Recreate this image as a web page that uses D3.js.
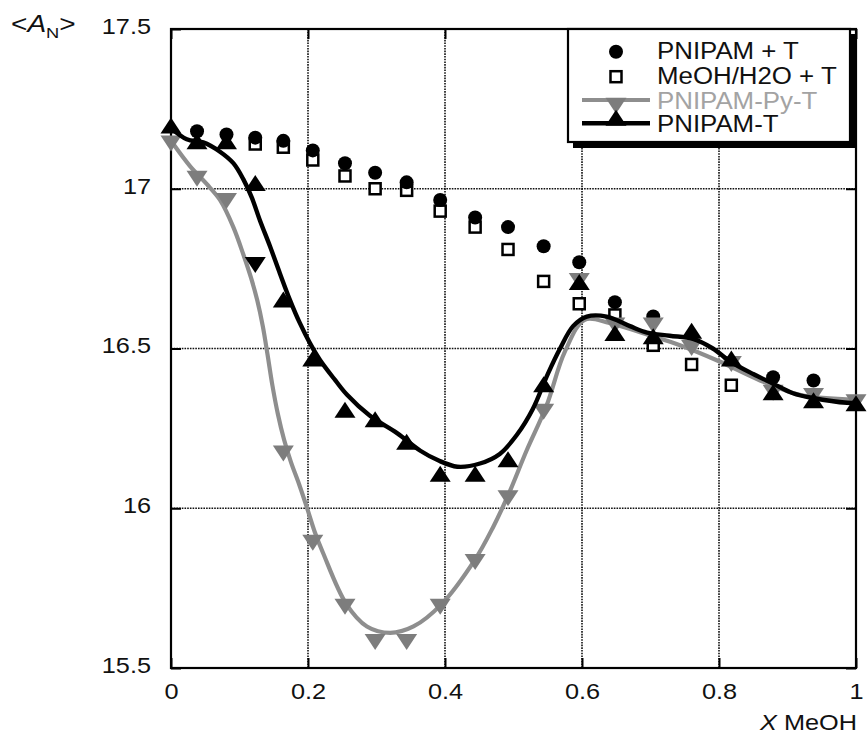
<!DOCTYPE html>
<html>
<head>
<meta charset="utf-8">
<script src="https://cdn.jsdelivr.net/npm/d3@7"></script>
<style>
  html, body { margin: 0; padding: 0; background: #fff; }
  svg { display: block; }
  text { font-family: "Liberation Sans", Arial, Helvetica, sans-serif; fill: #111; }
</style>
</head>
<body>
<svg id="chart" width="868" height="741"></svg>
<script>
// Methanol mole fraction at each measured composition
const xMeOH = [0, 0.038, 0.081, 0.123, 0.164, 0.207, 0.254, 0.298, 0.344, 0.393, 0.444,
               0.492, 0.544, 0.596, 0.648, 0.704, 0.76, 0.818, 0.879, 0.938, 1.0];

// <A_N> per series (null = not plotted at that composition)
const pnipamPlusT = [null, 17.18, 17.17, 17.16, 17.15, 17.12, 17.08, 17.05, 17.02, 16.965, 16.91,
                     16.88, 16.82, 16.77, 16.645, 16.60, null, null, 16.41, 16.40, null];
const meohH2oPlusT = [null, null, null, 17.14, 17.13, 17.09, 17.04, 17.00, 16.995, 16.93, 16.88,
                      16.81, 16.71, 16.64, 16.605, 16.51, 16.45, 16.385, null, null, null];
const pnipamPyT = [17.15, 17.04, 16.97, 16.77, 16.18, 15.90, 15.70, 15.59, 15.59, 15.70, 15.84,
                   16.04, 16.31, 16.72, 16.58, 16.58, 16.51, 16.46, 16.37, 16.36, 16.34];
const pnipamT = [17.19, 17.14, 17.14, 17.01, 16.645, 16.46, 16.30, 16.27, 16.20, 16.10, 16.10,
                 16.145, 16.38, 16.70, 16.54, 16.53, 16.547, 16.46, 16.355, 16.33, 16.32];
// PNIPAM-Py-T points printed in black
const pyTDarkPoints = [3];

// Smoothed guide curves
const fitTX = [0, 0.023, 0.047, 0.0715, 0.091, 0.1055, 0.118, 0.130, 0.1445, 0.159, 0.174, 0.188,
               0.203, 0.2175, 0.24, 0.257, 0.29, 0.33, 0.364, 0.39, 0.418, 0.451, 0.48, 0.505,
               0.528, 0.55, 0.568, 0.587, 0.607, 0.636, 0.67, 0.695, 0.728, 0.762, 0.791, 0.816,
               0.85, 0.879, 0.908, 0.937, 0.987, 1.0];
const fitTY = [17.19, 17.155, 17.145, 17.116, 17.08, 17.03, 16.972, 16.90, 16.82, 16.735, 16.65, 16.58,
               16.516, 16.464, 16.40, 16.355, 16.29, 16.235, 16.18, 16.15, 16.13, 16.14, 16.17, 16.23,
               16.31, 16.42, 16.50, 16.57, 16.60, 16.60, 16.57, 16.55, 16.54, 16.53, 16.50, 16.46,
               16.42, 16.39, 16.36, 16.345, 16.33, 16.33];
const fitPyTX = [0, 0.028, 0.052, 0.0715, 0.091, 0.1055, 0.117, 0.126, 0.134, 0.141, 0.148, 0.156,
                 0.165, 0.175, 0.187, 0.198, 0.21, 0.222, 0.256, 0.286, 0.32, 0.354, 0.395, 0.444,
                 0.47, 0.492, 0.519, 0.548, 0.575, 0.604, 0.64, 0.70, 0.743, 0.80, 0.86, 0.918, 1.0];
const fitPyTY = [17.15, 17.07, 17.015, 16.965, 16.88, 16.795, 16.72, 16.65, 16.57, 16.48, 16.385, 16.295,
                 16.215, 16.145, 16.075, 16.005, 15.925, 15.86, 15.70, 15.63, 15.61, 15.63, 15.70, 15.84,
                 15.94, 16.04, 16.18, 16.32, 16.49, 16.59, 16.58, 16.54, 16.51, 16.46, 16.40, 16.355, 16.34];

// Axis ticks and labels
const xTicks = [0, 0.2, 0.4, 0.6, 0.8, 1];
const xTickLabels = ["0", "0.2", "0.4", "0.6", "0.8", "1"];
const yTicks = [15.5, 16, 16.5, 17, 17.5];
const yTickLabels = ["15.5", "16", "16.5", "17", "17.5"];
const xGrid = [0.2, 0.4, 0.6, 0.8];
const yGrid = [16, 16.5, 17];

const legendLabels = ["PNIPAM + T", "MeOH/H2O + T", "PNIPAM-Py-T", "PNIPAM-T"];

// ---- layout ----
const L = 171, R = 856, T = 29, B = 668;
const GRAY_LINE = "#8e8e8e", GRAY_MARK = "#7d7d7d", GRAY_TEXT = "#a3a3a3";
const STRETCH = 1.15;   // horizontal stretch of the lettering

const svg = d3.select("#chart");
const x = d3.scaleLinear().domain([0, 1]).range([L, R]);
const y = d3.scaleLinear().domain([15.5, 17.5]).range([B, T]);

// isoceles triangle symbols centred on their centroid
function triangle(dir, w, h) {
  return {
    draw(ctx) {
      const s = dir;
      ctx.moveTo(0, -s * h * 2 / 3);
      ctx.lineTo(w / 2, s * h / 3);
      ctx.lineTo(-w / 2, s * h / 3);
      ctx.closePath();
    }
  };
}
const triUp = d3.symbol().type(triangle(1, 21, 16))();
const triDown = d3.symbol().type(triangle(-1, 21, 16))();

// ---- grid ----
const grid = svg.append("g").attr("stroke", "#111").attr("stroke-width", 1.6)
  .attr("stroke-dasharray", "1.6,1.1");
grid.selectAll("line.v").data(xGrid).join("line").attr("class", "v")
  .attr("x1", d => x(d)).attr("x2", d => x(d)).attr("y1", T).attr("y2", B);
grid.selectAll("line.h").data(yGrid).join("line").attr("class", "h")
  .attr("x1", L).attr("x2", R).attr("y1", d => y(d)).attr("y2", d => y(d));

// ---- axes ----
function styleAxis(g) {
  g.select(".domain").remove();
  g.selectAll(".tick line").attr("stroke", "#000").attr("stroke-width", 2);
  g.selectAll(".tick text").attr("fill", "#111").attr("font-size", 22)
    .attr("font-family", "'Liberation Sans', Arial, sans-serif");
}
svg.append("g").attr("transform", `translate(0,${B})`)
  .call(d3.axisBottom(x).tickValues(xTicks).tickSizeInner(-10).tickSizeOuter(0).tickPadding(15)
        .tickFormat((d, i) => xTickLabels[i]))
  .call(styleAxis)
  .call(g => g.selectAll(".tick text").attr("transform", `scale(${STRETCH},1)`));
svg.append("g").attr("transform", `translate(${L},0)`)
  .call(d3.axisLeft(y).tickValues(yTicks).tickSizeInner(-10).tickSizeOuter(0).tickPadding(20)
        .tickFormat((d, i) => yTickLabels[i]))
  .call(styleAxis)
  .call(g => g.selectAll(".tick text").attr("x", -20 / STRETCH).attr("dy", "0.2em")
        .attr("transform", `scale(${STRETCH},1)`));
svg.append("g").attr("transform", `translate(${R},0)`)
  .call(d3.axisRight(y).tickValues(yTicks).tickSizeInner(-10).tickSizeOuter(0).tickFormat(""))
  .call(styleAxis);
svg.append("g").attr("transform", `translate(0,${T})`)
  .call(d3.axisTop(x).tickValues(xTicks).tickSizeInner(-10).tickSizeOuter(0).tickFormat(""))
  .call(styleAxis);

// plot frame
svg.append("rect").attr("x", L).attr("y", T).attr("width", R - L).attr("height", B - T)
  .attr("fill", "none").attr("stroke", "#000").attr("stroke-width", 2.2);

// ---- axis titles ----
const yTitle = svg.append("text").attr("transform", "translate(11,32) scale(1.22,1)")
  .attr("font-size", 23);
yTitle.append("tspan").text("<");
yTitle.append("tspan").attr("font-style", "italic").text("A");
yTitle.append("tspan").attr("font-size", 15).attr("dy", 6).text("N");
yTitle.append("tspan").attr("dy", -6).text(">");

const xTitle = svg.append("text").attr("transform", `translate(857,730) scale(${STRETCH},1)`)
  .attr("font-size", 22).attr("text-anchor", "end");
xTitle.append("tspan").attr("font-style", "italic").text("X");
xTitle.append("tspan").text(" MeOH");

// ---- data marks ----
const pts = arr => xMeOH.map((xv, i) => ({ x: xv, y: arr[i], i })).filter(d => d.y != null);

// MeOH/H2O + T : open squares
svg.append("g").selectAll("rect").data(pts(meohH2oPlusT)).join("rect")
  .attr("x", d => x(d.x) - 5.5).attr("y", d => y(d.y) - 5.5)
  .attr("width", 11).attr("height", 11)
  .attr("fill", "#fff").attr("stroke", "#000").attr("stroke-width", 2.5);

// PNIPAM + T : filled circles
svg.append("g").selectAll("circle").data(pts(pnipamPlusT)).join("circle")
  .attr("cx", d => x(d.x)).attr("cy", d => y(d.y)).attr("r", 7).attr("fill", "#000");

const smooth = d3.line().x(d => x(d[0])).y(d => y(d[1])).curve(d3.curveCatmullRom.alpha(0.5));

// PNIPAM-Py-T : grey curve and down triangles
svg.append("path").datum(fitPyTX.map((v, i) => [v, fitPyTY[i]]))
  .attr("d", smooth).attr("fill", "none").attr("stroke", GRAY_LINE)
  .attr("stroke-width", 4.2).attr("stroke-linejoin", "round");
svg.append("g").selectAll("path").data(pts(pnipamPyT)).join("path")
  .attr("d", triDown)
  .attr("transform", d => `translate(${x(d.x)},${y(d.y)})`)
  .attr("fill", d => pyTDarkPoints.includes(d.i) ? "#000" : GRAY_MARK);

// PNIPAM-T : black curve and up triangles
svg.append("path").datum(fitTX.map((v, i) => [v, fitTY[i]]))
  .attr("d", smooth).attr("fill", "none").attr("stroke", "#000")
  .attr("stroke-width", 4.4).attr("stroke-linejoin", "round");
svg.append("g").selectAll("path").data(pts(pnipamT)).join("path")
  .attr("d", triUp)
  .attr("transform", d => `translate(${x(d.x)},${y(d.y)})`)
  .attr("fill", "#000");

// ---- legend ----
const lg = svg.append("g").attr("transform", "translate(568,29)");
lg.append("rect").attr("x", 5).attr("y", 5).attr("width", 284).attr("height", 114).attr("fill", "#000");
lg.append("rect").attr("x", 0).attr("y", 0).attr("width", 282).attr("height", 113)
  .attr("fill", "#fff").attr("stroke", "#000").attr("stroke-width", 2.2);

const rowY = [22.7, 47.7, 71, 94.3];     // symbol rows
const baseY = [29.5, 54.5, 79.5, 103];   // text baselines
const symX = 48, textX = 89;
lg.append("circle").attr("cx", symX).attr("cy", rowY[0]).attr("r", 7).attr("fill", "#000");
lg.append("rect").attr("x", symX - 5.5).attr("y", rowY[1] - 5.5).attr("width", 11).attr("height", 11)
  .attr("fill", "#fff").attr("stroke", "#000").attr("stroke-width", 2.5);
lg.append("line").attr("x1", 14).attr("x2", 82).attr("y1", rowY[2]).attr("y2", rowY[2])
  .attr("stroke", GRAY_LINE).attr("stroke-width", 4.2);
lg.append("path").attr("d", triDown).attr("transform", `translate(${symX},${rowY[2] + 3})`)
  .attr("fill", GRAY_MARK);
lg.append("line").attr("x1", 14).attr("x2", 82).attr("y1", rowY[3]).attr("y2", rowY[3])
  .attr("stroke", "#000").attr("stroke-width", 4.4);
lg.append("path").attr("d", triUp).attr("transform", `translate(${symX},${rowY[3] - 3})`)
  .attr("fill", "#000");

lg.selectAll("text.lab").data(legendLabels).join("text").attr("class", "lab")
  .attr("transform", (d, i) => `translate(${textX},${baseY[i]}) scale(1.1,1)`)
  .attr("font-size", 23.5)
  .style("fill", (d, i) => i === 2 ? GRAY_TEXT : "#111")
  .text(d => d);
</script>
</body>
</html>
